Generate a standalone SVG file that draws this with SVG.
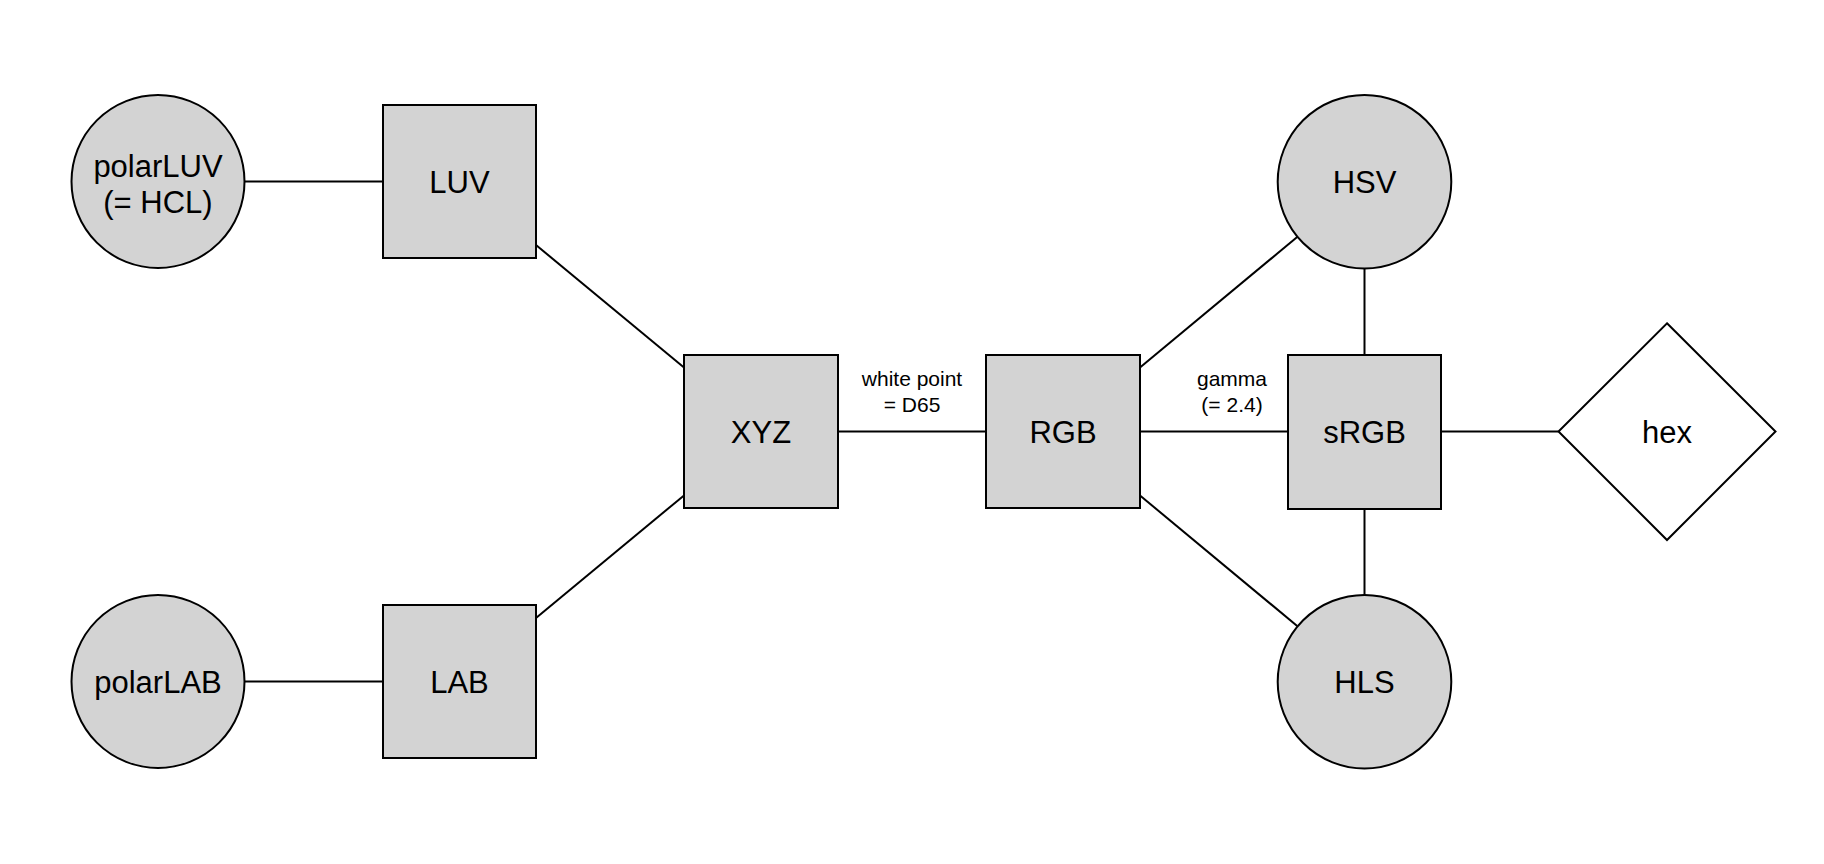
<svg xmlns="http://www.w3.org/2000/svg" width="1824" height="864" viewBox="0 0 1824 864">
<style>
.n{fill:#d3d3d3;stroke:#000;stroke-width:2}
.d{fill:#fff;stroke:#000;stroke-width:2}
.e{stroke:#000;stroke-width:2;fill:none}
.t{font-family:"Liberation Sans",Arial,sans-serif;font-size:31px;text-anchor:middle;fill:#000}
.l{font-family:"Liberation Sans",Arial,sans-serif;font-size:21px;text-anchor:middle;fill:#000}
</style>
<rect width="1824" height="864" fill="#fff"/>
<g id="connectors">
<line class="e" x1="244.5" y1="181.5" x2="383" y2="181.5"/>
<line class="e" x1="244.5" y1="681.5" x2="383" y2="681.5"/>
<line class="e" x1="536" y1="245" x2="684" y2="367.6"/>
<line class="e" x1="536" y1="618" x2="684" y2="495.4"/>
<line class="e" x1="838" y1="431.5" x2="986" y2="431.5"/>
<line class="e" x1="1140" y1="431.5" x2="1288" y2="431.5"/>
<line class="e" x1="1140" y1="367.5" x2="1297.2" y2="237"/>
<line class="e" x1="1140" y1="495.5" x2="1297.2" y2="626"/>
<line class="e" x1="1364.5" y1="268.5" x2="1364.5" y2="355"/>
<line class="e" x1="1364.5" y1="509" x2="1364.5" y2="595"/>
<line class="e" x1="1441" y1="431.5" x2="1558.5" y2="431.5"/>
<text class="l" x="912" y="385.5">white point</text>
<text class="l" x="912" y="411.5">= D65</text>
<text class="l" x="1232" y="385.5">gamma</text>
<text class="l" x="1232" y="411.5">(= 2.4)</text>
</g>
<g id="polarLUV">
<circle class="n" cx="158" cy="181.5" r="86.5"/>
<text class="t" x="158" y="176.5">polarLUV</text>
<text class="t" x="158" y="213">(= HCL)</text>
</g>
<g id="LUV">
<rect class="n" x="383" y="105" width="153" height="153"/>
<text class="t" x="459.5" y="192.5">LUV</text>
</g>
<g id="polarLAB">
<circle class="n" cx="158" cy="681.5" r="86.5"/>
<text class="t" x="158" y="692.5">polarLAB</text>
</g>
<g id="LAB">
<rect class="n" x="383" y="605" width="153" height="153"/>
<text class="t" x="459.5" y="692.5">LAB</text>
</g>
<g id="XYZ">
<rect class="n" x="684" y="355" width="154" height="153"/>
<text class="t" x="761" y="442.5">XYZ</text>
</g>
<g id="RGB">
<rect class="n" x="986" y="355" width="154" height="153"/>
<text class="t" x="1063" y="442.5">RGB</text>
</g>
<g id="sRGB">
<rect class="n" x="1288" y="355" width="153" height="154"/>
<text class="t" x="1364.5" y="442.5">sRGB</text>
</g>
<g id="HSV">
<circle class="n" cx="1364.5" cy="181.7" r="86.8"/>
<text class="t" x="1364.5" y="192.5">HSV</text>
</g>
<g id="HLS">
<circle class="n" cx="1364.5" cy="681.7" r="86.8"/>
<text class="t" x="1364.5" y="692.5">HLS</text>
</g>
<g id="hex">
<polygon class="d" points="1667,323.3 1775.5,431.5 1667,540 1558.5,431.5"/>
<text class="t" x="1667" y="442.5">hex</text>
</g>
</svg>
